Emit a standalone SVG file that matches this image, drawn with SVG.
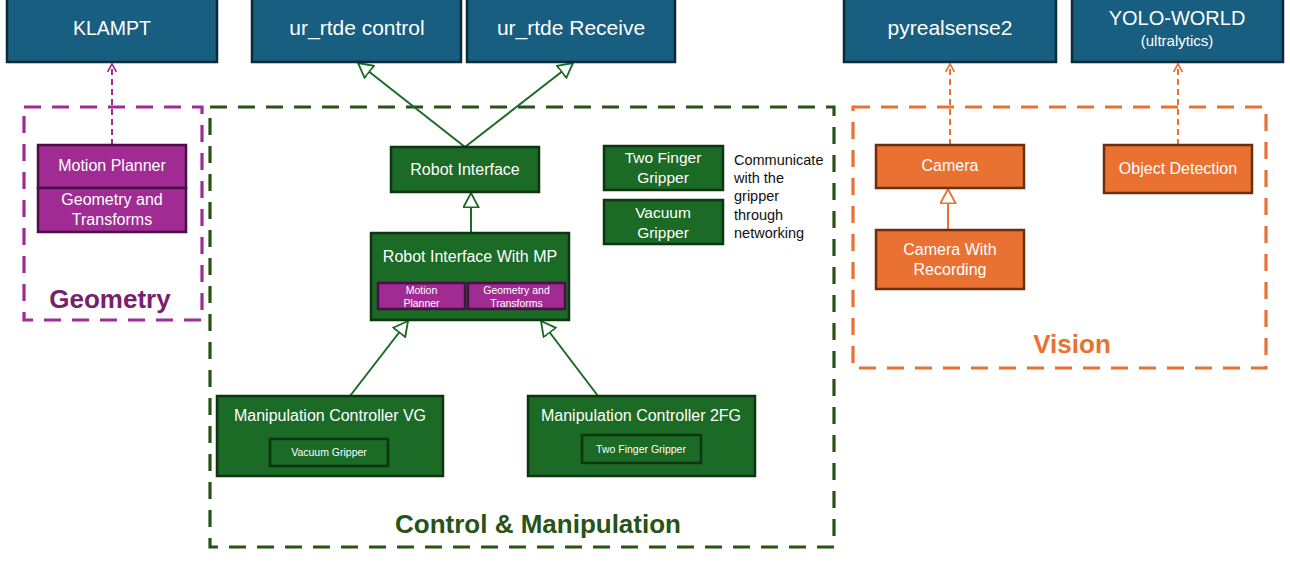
<svg xmlns="http://www.w3.org/2000/svg" width="1290" height="587" viewBox="0 0 1290 587">
<defs>
<style>
text{font-family:"Liberation Sans",Arial,sans-serif;fill:#fff;text-anchor:middle}
.ext{fill:#175E80;stroke:#0B2A3A;stroke-width:2.5}
.pur{fill:#A02B93;stroke:#4A0F44;stroke-width:2.5}
.grn{fill:#1B6A25;stroke:#0D3512;stroke-width:2.5}
.org{fill:#E97132;stroke:#6B2E0F;stroke-width:2.5}
.t18{font-size:21px}
.t14{font-size:16px}
.t15{font-size:15.5px}
.t9{font-size:10.5px}
.big{font-size:26px;font-weight:bold}
.gr{fill:none;stroke-width:3.2;stroke-dasharray:17 11}
.inh{fill:none;stroke:#1B6A25;stroke-width:2}
.inho{fill:none;stroke:#E97132;stroke-width:2}
.dep{fill:none;stroke-width:2;stroke-dasharray:6 4}
.note{fill:#111;text-anchor:start;font-size:14.5px}
</style>
<marker id="triG" viewBox="0 0 20 20" refX="19" refY="10" markerWidth="16" markerHeight="17" markerUnits="userSpaceOnUse" orient="auto" preserveAspectRatio="none"><path d="M1,1 L19,10 L1,19 Z" fill="#fff" stroke="#1B6A25" stroke-width="2.2"/></marker>
<marker id="triO" viewBox="0 0 20 20" refX="19" refY="10" markerWidth="16" markerHeight="17" markerUnits="userSpaceOnUse" orient="auto" preserveAspectRatio="none"><path d="M1,1 L19,10 L1,19 Z" fill="#fff" stroke="#E97132" stroke-width="2.2"/></marker>
<marker id="opP" viewBox="0 0 10 10" refX="9" refY="5" markerWidth="10" markerHeight="11" markerUnits="userSpaceOnUse" orient="auto" preserveAspectRatio="none"><path d="M1,1 L9,5 L1,9" fill="none" stroke="#A02B93" stroke-width="1.6"/></marker>
<marker id="opO" viewBox="0 0 10 10" refX="9" refY="5" markerWidth="10" markerHeight="11" markerUnits="userSpaceOnUse" orient="auto" preserveAspectRatio="none"><path d="M1,1 L9,5 L1,9" fill="none" stroke="#E97132" stroke-width="1.6"/></marker>
</defs>

<g id="groups">
<rect x="24" y="107" width="178" height="213" class="gr" stroke="#A02B93"/>
<text x="110" y="308" class="big" style="fill:#78206E">Geometry</text>
<rect x="210" y="107" width="624" height="440" class="gr" stroke="#275317"/>
<text x="538" y="533" class="big" style="fill:#275317">Control &amp; Manipulation</text>
<rect x="853" y="107" width="413" height="261" class="gr" stroke="#E97132"/>
<text x="1072" y="353" class="big" style="fill:#E97132">Vision</text>
</g>

<g id="connectors">
<line x1="112" y1="145" x2="112" y2="64" class="dep" stroke="#A02B93" marker-end="url(#opP)"/>
<line x1="465" y1="147" x2="358" y2="63" class="inh" marker-end="url(#triG)"/>
<line x1="465" y1="147" x2="573" y2="63" class="inh" marker-end="url(#triG)"/>
<line x1="471" y1="233" x2="471" y2="193" class="inh" marker-end="url(#triG)"/>
<line x1="350" y1="396" x2="408" y2="321" class="inh" marker-end="url(#triG)"/>
<line x1="598" y1="396" x2="541" y2="321" class="inh" marker-end="url(#triG)"/>
<line x1="948" y1="230" x2="948" y2="189" class="inho" marker-end="url(#triO)"/>
<line x1="950" y1="145" x2="950" y2="64" class="dep" stroke="#E97132" marker-end="url(#opO)"/>
<line x1="1178" y1="145" x2="1178" y2="64" class="dep" stroke="#E97132" marker-end="url(#opO)"/>
</g>

<g id="klampt"><rect x="7" y="-5" width="210" height="67" class="ext"/><text x="112" y="35" style="font-size:19.5px">KLAMPT</text></g>
<g id="ur_rtde_control"><rect x="252" y="-5" width="209" height="67" class="ext"/><text x="357" y="35" class="t18">ur_rtde control</text></g>
<g id="ur_rtde_receive"><rect x="467" y="-5" width="208" height="67" class="ext"/><text x="571" y="35" class="t18">ur_rtde Receive</text></g>
<g id="pyrealsense2"><rect x="844" y="-5" width="212" height="67" class="ext"/><text x="950" y="35" class="t18">pyrealsense2</text></g>
<g id="yolo_world"><rect x="1072" y="-5" width="211" height="67" class="ext"/><text x="1177" y="25" style="font-size:20px">YOLO-WORLD</text><text x="1177" y="46" style="font-size:15px">(ultralytics)</text></g>

<g id="geometry_motion_planner"><rect x="38" y="145" width="148" height="43" class="pur"/><text x="112" y="171" class="t14">Motion Planner</text></g>
<g id="geometry_transforms"><rect x="38" y="188" width="148" height="44" class="pur"/><text x="112" y="205" class="t14">Geometry and</text><text x="112" y="225" class="t14">Transforms</text></g>

<g id="robot_interface"><rect x="391" y="147" width="148" height="45" class="grn"/><text x="465" y="175" class="t14">Robot Interface</text></g>
<g id="robot_interface_mp"><rect x="371" y="233" width="198" height="87" class="grn"/><text x="470" y="262" class="t14">Robot Interface With MP</text>
<rect x="378" y="283" width="87" height="26" class="pur" stroke-width="2"/><text x="421.5" y="294" class="t9">Motion</text><text x="421.5" y="307" class="t9">Planner</text>
<rect x="468" y="283" width="97" height="26" class="pur" stroke-width="2"/><text x="516.5" y="294" class="t9">Geometry and</text><text x="516.5" y="307" class="t9">Transforms</text></g>
<g id="two_finger_gripper"><rect x="604" y="146" width="119" height="44" class="grn"/><text x="663" y="163" class="t15">Two Finger</text><text x="663" y="183" class="t15">Gripper</text></g>
<g id="vacuum_gripper"><rect x="604" y="200" width="119" height="44" class="grn"/><text x="663" y="218" class="t15">Vacuum</text><text x="663" y="238" class="t15">Gripper</text></g>
<g id="note"><text x="734" y="165" class="note">Communicate</text><text x="734" y="183" class="note">with the</text><text x="734" y="201" class="note">gripper</text><text x="734" y="220" class="note">through</text><text x="734" y="238" class="note">networking</text></g>
<g id="manip_vg"><rect x="217" y="396" width="226" height="80" class="grn"/><text x="330" y="421" class="t14">Manipulation Controller VG</text>
<rect x="270" y="439" width="118" height="27" class="grn"/><text x="329" y="456" class="t9">Vacuum Gripper</text></g>
<g id="manip_2fg"><rect x="528" y="396" width="227" height="80" class="grn"/><text x="641" y="421" class="t14">Manipulation Controller 2FG</text>
<rect x="582" y="435" width="119" height="28" class="grn"/><text x="641" y="453" class="t9">Two Finger Gripper</text></g>

<g id="camera"><rect x="876" y="145" width="148" height="43" class="org"/><text x="950" y="171" class="t14">Camera</text></g>
<g id="object_detection"><rect x="1104" y="145" width="148" height="48" class="org"/><text x="1178" y="174" class="t14">Object Detection</text></g>
<g id="camera_recording"><rect x="876" y="230" width="148" height="59" class="org"/><text x="950" y="255" class="t14">Camera With</text><text x="950" y="275" class="t14">Recording</text></g>
</svg>
